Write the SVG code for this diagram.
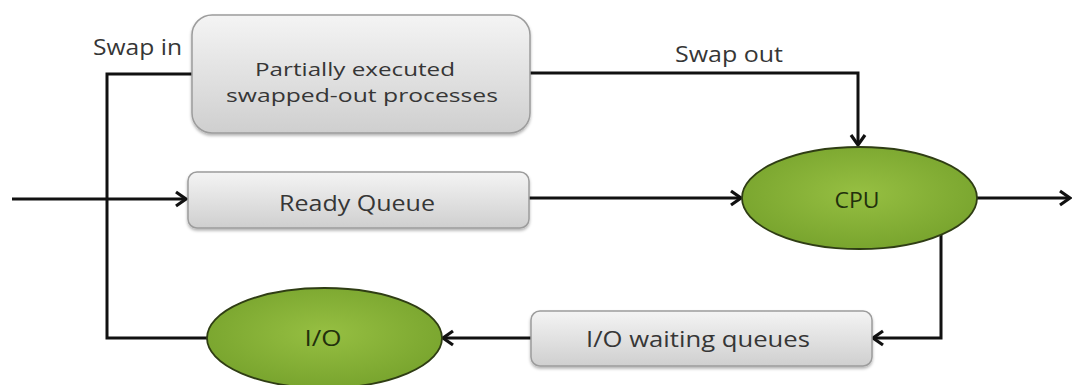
<svg xmlns="http://www.w3.org/2000/svg" width="1072" height="385" viewBox="0 0 1072 385">
<style>
.box{fill:url(#gBox);stroke:#9c9c9c;stroke-width:1.5;filter:url(#sh)}
.ell{fill:url(#gEll);stroke:#2f3d14;stroke-width:1.8}
.t{font-family:"Open Sans","Liberation Sans",sans-serif;font-size:22px;fill:#363636;text-anchor:middle}
.t2{font-size:18.5px}
.te{font-family:"Open Sans","Liberation Sans",sans-serif;font-size:22px;fill:#22300c;text-anchor:middle}
.c{fill:none;stroke:#111;stroke-width:3}
</style>
<defs>
<linearGradient id="gBox" x1="0" y1="0" x2="0" y2="1">
<stop offset="0" stop-color="#f4f4f4"/>
<stop offset="1" stop-color="#cfcfcf"/>
</linearGradient>
<radialGradient id="gEll" cx="0.5" cy="0.45" r="0.6">
<stop offset="0" stop-color="#96bf42"/>
<stop offset="1" stop-color="#76a22c"/>
</radialGradient>
<filter id="sh" x="-10%" y="-10%" width="120%" height="130%">
<feDropShadow dx="0" dy="2" stdDeviation="1.5" flood-color="#000" flood-opacity="0.3"/>
</filter>
<marker id="ah" markerUnits="userSpaceOnUse" markerWidth="18" markerHeight="20" refX="13" refY="9" orient="auto">
<path d="M3,2 L13,9 L3,16" fill="none" stroke="#111" stroke-width="3.2"/>
</marker>
</defs>
<g id="connectors">
<path class="c" d="M12,199 H186" marker-end="url(#ah)"/>
<path class="c" d="M529,198 H741" marker-end="url(#ah)"/>
<path class="c" d="M977,198 H1070" marker-end="url(#ah)"/>
<path class="c" d="M530,73 H858 V145" marker-end="url(#ah)"/>
<path class="c" d="M941,235 V338 H873" marker-end="url(#ah)"/>
<path class="c" d="M531,338 H443" marker-end="url(#ah)"/>
<path class="c" d="M207,338 H107 V74 H192"/>
</g>
<g id="lbl-swapin"><text class="t" x="137.5" y="55" textLength="89" lengthAdjust="spacingAndGlyphs">Swap in</text></g>
<g id="lbl-swapout"><text class="t" x="729" y="62" textLength="108" lengthAdjust="spacingAndGlyphs">Swap out</text></g>
<g id="node-swapped">
<rect class="box" x="192" y="15" width="338" height="118" rx="20"/>
<text class="t t2" x="355" y="76" textLength="200" lengthAdjust="spacingAndGlyphs">Partially executed</text>
<text class="t t2" x="362" y="102" textLength="272" lengthAdjust="spacingAndGlyphs">swapped-out processes</text>
</g>
<g id="node-ready">
<rect class="box" x="188" y="172" width="341" height="56" rx="9"/>
<text class="t" x="357" y="211" textLength="156" lengthAdjust="spacingAndGlyphs">Ready Queue</text>
</g>
<g id="node-cpu">
<ellipse class="ell" cx="859.5" cy="198" rx="117.5" ry="51"/>
<text class="te" x="857" y="208" textLength="45" lengthAdjust="spacingAndGlyphs">CPU</text>
</g>
<g id="node-iowait">
<rect class="box" x="531" y="311" width="341" height="55" rx="9"/>
<text class="t" x="698" y="347" textLength="224" lengthAdjust="spacingAndGlyphs">I/O waiting queues</text>
</g>
<g id="node-io">
<ellipse class="ell" cx="324.5" cy="338" rx="117.5" ry="50"/>
<text class="te" x="323" y="346" textLength="37" lengthAdjust="spacingAndGlyphs">I/O</text>
</g>
</svg>
